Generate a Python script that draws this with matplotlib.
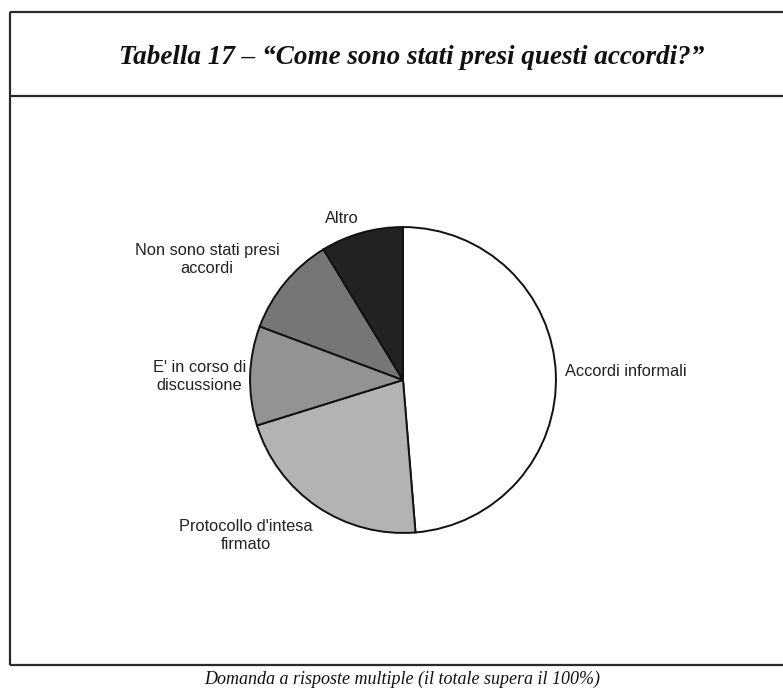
import matplotlib.pyplot as plt
from matplotlib.lines import Line2D

# data (shares of the pie, clockwise from 12 o'clock)
labels = ["Accordi informali", "Protocollo d'intesa\nfirmato", "E' in corso di\ndiscussione",
          "Non sono stati presi\naccordi", "Altro"]
values = [48.7, 21.5, 10.5, 10.6, 8.7]
colors = ["#ffffff", "#b3b3b3", "#939393", "#767676", "#222222"]

title = "Tabella 17 – “Come sono stati presi questi accordi?”"
caption = "Domanda a risposte multiple (il totale supera il 100%)"

# label spots in pie units (radius = 1), and alignment
label_pos = [(1.058, 0.058, "left"), (-1.03, -1.016, "center"), (-1.33, 0.02, "center"),
             (-1.28, 0.788, "center"), (-0.40, 1.058, "center")]

W, H = 783, 690
fig = plt.figure(figsize=(W / 100, H / 100), dpi=100)

# frame drawn in pixel coordinates
bg = fig.add_axes([0, 0, 1, 1])
bg.set_xlim(0, W)
bg.set_ylim(H, 0)
bg.axis("off")
frame_kw = dict(color="#2a2a2a", lw=1.6, solid_capstyle="butt")
bg.add_line(Line2D([10, 10], [12, 665], **frame_kw))
bg.add_line(Line2D([10, W], [12, 12], **frame_kw))
bg.add_line(Line2D([10, W], [96, 96], **frame_kw))
bg.add_line(Line2D([10, W], [665, 665], **frame_kw))

bg.text(412, 57, title, ha="center", va="center", fontsize=19.5,
        family="Liberation Serif", fontweight="bold", fontstyle="italic", color="#111111")
bg.text(402, 679, caption, ha="center", va="center", fontsize=13,
        family="Liberation Serif", fontstyle="italic", color="#111111")

# pie
cx, cy, r = 403, 380, 156
ax = fig.add_axes([(cx - r) / W, (H - cy - r) / H, 2 * r / W, 2 * r / H])
ax.pie(values, colors=colors, startangle=90, counterclock=False, radius=1,
       wedgeprops=dict(edgecolor="#111111", linewidth=1.4))
ax.set_xlim(-1.02, 1.02)
ax.set_ylim(-1.02, 1.02)
ax.set_aspect("equal")

for lab, (x, y, ha) in zip(labels, label_pos):
    ax.text(x, y, lab, ha=ha, va="center", multialignment="center",
            fontsize=11.8, family="Liberation Sans", color="#222222", linespacing=1.25)

fig.savefig("out.png", dpi=100)
